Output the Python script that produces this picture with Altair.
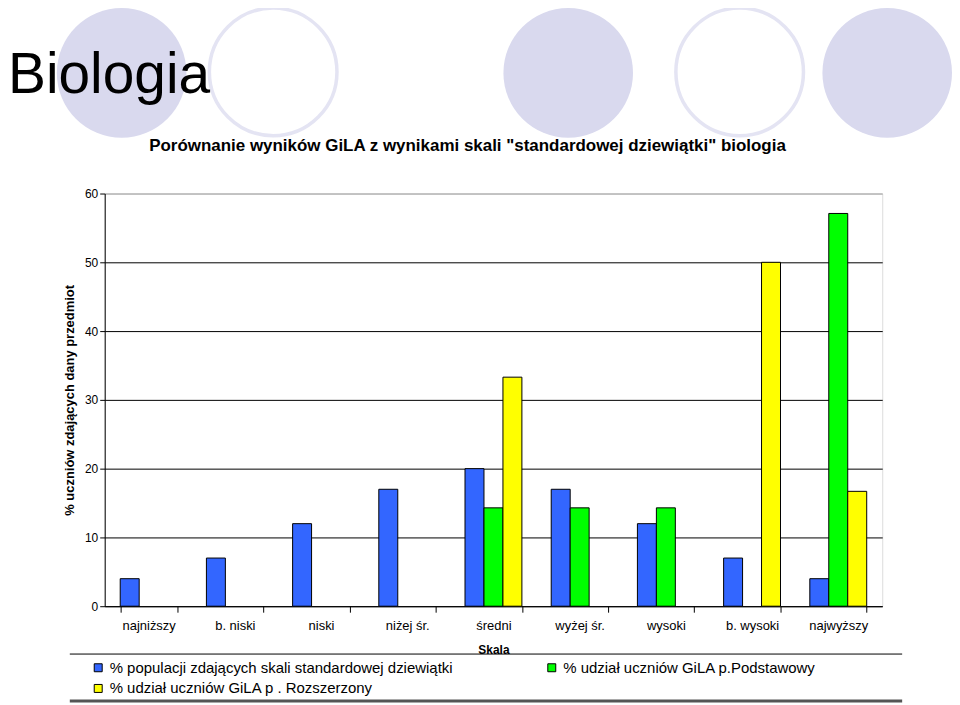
import altair as alt
import pandas as pd

FONT = "Liberation Sans"

categories = ["najniższy", "b. niski", "niski", "niżej śr.", "średni",
              "wyżej śr.", "wysoki", "b. wysoki", "najwyższy"]
series_names = [
    "% populacji zdających skali standardowej dziewiątki",
    "% udział uczniów GiLA p.Podstawowy",
    "% udział uczniów GiLA p . Rozszerzony",
]
populacja = [4, 7, 12, 17, 20, 17, 12, 7, 4]
podstawowy = [None, None, None, None, 14.3, 14.3, 14.3, None, 57.1]
rozszerzony = [None, None, None, None, 33.3, None, None, 50.0, 16.7]
colors = ["#3366FF", "#00FF00", "#FFFF00"]
y_ticks = [0, 10, 20, 30, 40, 50, 60]

rows = []
for vals, name in zip([populacja, podstawowy, rozszerzony], series_names):
    for c, v in zip(categories, vals):
        if v is not None:
            rows.append({"Skala": c, "seria": name, "wartosc": v})
df = pd.DataFrame(rows)

W, H = 780, 414
one = alt.Data(values=[{}])


def circle(px, py, filled):
    if filled:
        m = alt.Chart(one).mark_point(shape="circle", filled=True, fill="#d9d9ee",
                                      fillOpacity=1, strokeWidth=0, size=16900)
    else:
        m = alt.Chart(one).mark_point(shape="circle", filled=False, stroke="#d9d9ee",
                                      strokeWidth=3.5, strokeOpacity=1, size=16384)
    return m.encode(x=alt.value(px), y=alt.value(py))


circles = [
    circle(17, -121, True),
    circle(169, -122, False),
    circle(465, -121, True),
    circle(637, -122, False),
    circle(785, -121, True),
]

title_big = alt.Chart(one).mark_text(
    text="Biologia", font=FONT, fontSize=57, align="left", baseline="alphabetic", color="black"
).encode(x=alt.value(-97), y=alt.value(-101))

subtitle = alt.Chart(one).mark_text(
    text='Porównanie wyników GiLA z wynikami skali "standardowej dziewiątki"  biologia',
    font=FONT, fontSize=17, fontWeight="bold", align="center", baseline="alphabetic", color="black"
).encode(x=alt.value(364), y=alt.value(-43))

bars = alt.Chart(df).mark_bar(stroke="black", strokeWidth=1).encode(
    x=alt.X("Skala:N", sort=categories,
            scale=alt.Scale(paddingInner=0.34, paddingOuter=0.18, round=False),
            axis=alt.Axis(title="Skala", labelAngle=0, tickBand="extent", ticks=True,
                          tickSize=6, tickColor="black", domainColor="black",
                          labelFontSize=13, labelPadding=7, labelColor="black", labelFont=FONT,
                          titleFontSize=12, titleFontWeight="bold", titlePadding=12,
                          titleColor="black", titleFont=FONT, grid=False)),
    xOffset=alt.XOffset("seria:N", sort=series_names,
                        scale=alt.Scale(domain=series_names, paddingInner=0, paddingOuter=0,
                                        round=False)),
    y=alt.Y("wartosc:Q", scale=alt.Scale(domain=[0, 60], nice=False),
            axis=alt.Axis(title="% uczniów zdających dany przedmiot", values=y_ticks,
                          tickSize=5, tickColor="black", domainColor="black",
                          labelFontSize=12, labelPadding=2, labelColor="black", labelFont=FONT,
                          titleFontSize=13, titleFontWeight="bold", titlePadding=8,
                          titleColor="black", titleFont=FONT,
                          grid=True,
                          gridColor={"condition": {"test": "datum.value === 60", "value": "#999999"},
                                     "value": "black"},
                          gridWidth=1, gridOpacity=1)),
    color=alt.Color("seria:N", sort=series_names,
                    scale=alt.Scale(domain=series_names, range=colors),
                    legend=alt.Legend(title=None, orient="none", legendX=-14, legendY=468,
                                      columns=2, direction="horizontal",
                                      columnPadding=91, rowPadding=5,
                                      symbolType="square", symbolSize=64,
                                      symbolStrokeColor="black", symbolStrokeWidth=1,
                                      labelFontSize=15, labelColor="black", labelFont=FONT,
                                      labelLimit=600)),
)

top_line = alt.Chart(one).mark_rule(color="black", strokeWidth=1).encode(
    x=alt.value(-35), x2=alt.value(800), y=alt.value(462))
bottom_line = alt.Chart(one).mark_rule(color="#555555", strokeWidth=3).encode(
    x=alt.value(-35), x2=alt.value(800), y=alt.value(509))

chart = alt.layer(*circles, title_big, subtitle, bars, top_line, bottom_line).properties(
    width=W, height=H,
    autosize=alt.AutoSizeParams(type="none"),
    padding={"left": 97, "top": 185, "right": 70, "bottom": 98},
).configure_view(stroke="#999999").configure(font=FONT)

chart.save("out.html", embed_options={"renderer": "svg", "actions": False})
